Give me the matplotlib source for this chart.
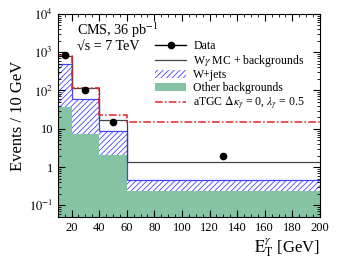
import numpy as np
import matplotlib.pyplot as plt
from matplotlib.lines import Line2D
from matplotlib.patches import Patch

plt.rcParams['font.family'] = ['Liberation Serif', 'DejaVu Serif']
plt.rcParams['mathtext.fontset'] = 'stix'
plt.rcParams['hatch.linewidth'] = 0.6

# bin edges in E_T^gamma [GeV], events per 10 GeV
edges = np.array([10, 20, 40, 60, 200])
other_bkg = np.array([37, 7.2, 2.1, 0.24])
wjets = np.array([443, 53, 6.5, 0.21])
mc_total = np.array([790, 117, 17, 1.4])
atgc = np.array([780, 115, 23, 15])
data_x = np.array([15, 30, 50, 130])
data_y = np.array([850, 105, 15, 2.0])

green = '#84c4a4'
blue = '#4444ff'
red = '#e8202a'

fig = plt.figure(figsize=(3.4, 2.62), dpi=100)
ax = fig.add_axes([0.17, 0.172, 0.771, 0.775])
ax.set_yscale('log')

ymin = 0.05
ax.stairs(other_bkg, edges, baseline=ymin * 0.1, fill=True, color=green, lw=0)
ax.stairs(other_bkg + wjets, edges, baseline=other_bkg, fill=True,
          facecolor='none', edgecolor=blue, hatch='//////', lw=0)
ax.stairs(other_bkg + wjets, edges, baseline=None, color=blue, lw=0.9)
ax.stairs(mc_total, edges, baseline=None, color='#444444', lw=0.9)
ax.stairs(atgc, edges, baseline=None, color=red, lw=1.1, ls=(0, (5, 1.5, 1, 1.5)))
ax.plot(data_x, data_y, 'o', color='black', ms=4.5, zorder=5)

ax.set_xlim(10, 200)
ax.set_ylim(ymin, 1e4)
ax.set_xticks(np.arange(20, 201, 20))
ax.set_xticks(np.arange(10, 201, 5), minor=True)
ax.tick_params(which='both', direction='in', top=True, right=True, labelsize=9)
ax.tick_params(which='major', length=5)
ax.tick_params(which='minor', length=2.5)
ax.set_yticks([0.1, 1, 10, 100, 1000, 10000])
ax.set_yticklabels(['$10^{-1}$', '1', '10', '$10^2$', '$10^3$', '$10^4$'])

ax.set_ylabel('Events / 10 GeV', fontsize=12, labelpad=2)
ax.set_xlabel(r'$\mathrm{E}_\mathrm{T}^{\gamma}$ [GeV]', fontsize=12, loc='right', labelpad=2)

ax.text(0.075, 0.92, 'CMS, 36 pb$^{-1}$', transform=ax.transAxes, fontsize=10.2, va='center')
ax.text(0.075, 0.838, '\u221as = 7 TeV', transform=ax.transAxes, fontsize=10.2, va='center')

handles = [
    Line2D([], [], color='black', marker='o', ms=4.5, lw=1),
    Line2D([], [], color='#444444', lw=0.9),
    Patch(facecolor='white', edgecolor=blue, hatch='//////', lw=0),
    Patch(facecolor=green, lw=0),
    Line2D([], [], color=red, lw=1.1, ls=(0, (5, 1.5, 1, 1.5))),
]
labels = ['Data', r'W$\gamma$ MC + backgrounds', 'W+jets', 'Other backgrounds',
          r'aTGC $\Delta\kappa_\gamma$ = 0, $\lambda_\gamma$ = 0.5']
ax.legend(handles, labels, loc='upper left', bbox_to_anchor=(0.35, 0.9),
          frameon=False, fontsize=8.5, handlelength=2.6, handletextpad=0.6,
          labelspacing=0.05, borderpad=0)

fig.savefig('out.png', dpi=100)
